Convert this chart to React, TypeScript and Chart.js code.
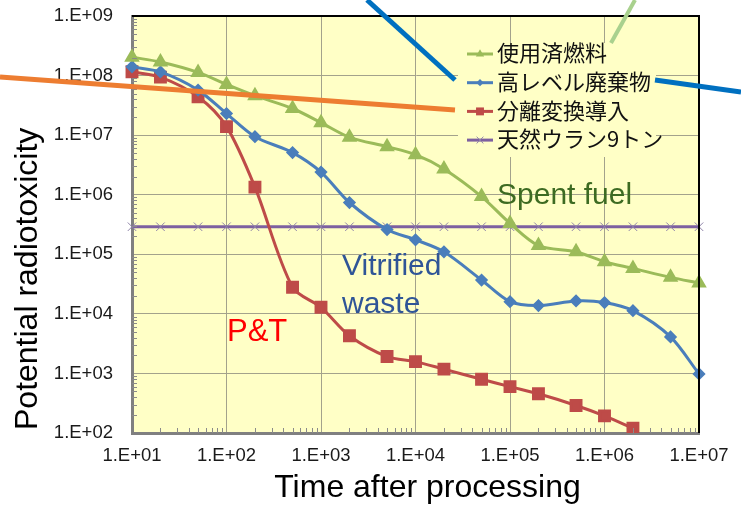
import React, { useEffect, useRef } from "react";
import { Chart, registerables } from "chart.js";

Chart.register(...registerables);

// ---- data ----
const timeValues = [10, 20, 50, 100, 200, 500, 1e3, 2e3, 5e3, 1e4, 2e4, 5e4, 1e5, 2e5, 5e5, 1e6, 2e6, 5e6, 1e7];
const spentFuel = [2.03e8, 1.69e8, 1.13e8, 7.1e7, 4.6e7, 2.8e7, 1.62e7, 9.2e6, 6.4e6, 4.7e6, 2.7e6, 9.3e5, 3.3e5, 1.4e5, 1.1e5, 7.5e4, 5.8e4, 4.1e4, 3.3e4];
const vitrifiedWaste = [1.4e8, 1.15e8, 5.7e7, 2.3e7, 9.4e6, 5.1e6, 2.4e6, 7.4e5, 2.6e5, 1.75e5, 1.1e5, 3.7e4, 1.6e4, 1.38e4, 1.65e4, 1.55e4, 1.13e4, 4.1e3, 9.8e2];
const partitioningTransmutation = [1.16e8, 9.4e7, 4.4e7, 1.39e7, 1.34e6, 2.8e4, 1.29e4, 4.3e3, 1.92e3, 1.58e3, 1.18e3, 8.0e2, 6.0e2, 4.55e2, 2.9e2, 1.94e2, 1.2e2];
const naturalUranium = [2.9e5, 2.9e5, 2.9e5, 2.9e5, 2.9e5, 2.9e5, 2.9e5, 2.9e5, 2.9e5, 2.9e5, 2.9e5, 2.9e5, 2.9e5, 2.9e5, 2.9e5, 2.9e5, 2.9e5, 2.9e5, 2.9e5];

const seriesLabels = ["使用済燃料", "高レベル廃棄物", "分離変換導入", "天然ウラン9トン"];
const xTickValues = [1e1, 1e2, 1e3, 1e4, 1e5, 1e6, 1e7];
const xTickLabels = ["1.E+01", "1.E+02", "1.E+03", "1.E+04", "1.E+05", "1.E+06", "1.E+07"];
const yTickValues = [1e2, 1e3, 1e4, 1e5, 1e6, 1e7, 1e8, 1e9];
const yTickLabels = ["1.E+02", "1.E+03", "1.E+04", "1.E+05", "1.E+06", "1.E+07", "1.E+08", "1.E+09"];
const minorMultipliers = [2, 3, 4, 5, 6, 7, 8, 9];

const xTitle = "Time after processing";
const yTitle = "Potential radiotoxicity";

const toPoints = (ys: number[]) => ys.map((y, i) => ({ x: timeValues[i], y }));

const PLOT_BG = "#ffffc6";
const SANS = "'Liberation Sans', Arial, sans-serif";
const CJK = "'Noto Sans CJK JP', sans-serif";

function drawMarker(ctx: CanvasRenderingContext2D, style: string, x: number, y: number, r: number, fill: string, stroke: string) {
  ctx.save();
  ctx.fillStyle = fill;
  ctx.strokeStyle = stroke;
  ctx.lineWidth = 1;
  ctx.beginPath();
  if (style === "triangle") {
    ctx.moveTo(x, y - r);
    ctx.lineTo(x + r * 0.866, y + r * 0.5);
    ctx.lineTo(x - r * 0.866, y + r * 0.5);
    ctx.closePath();
    ctx.fill();
  } else if (style === "rectRot") {
    ctx.moveTo(x, y - r);
    ctx.lineTo(x + r, y);
    ctx.lineTo(x, y + r);
    ctx.lineTo(x - r, y);
    ctx.closePath();
    ctx.fill();
  } else if (style === "rect") {
    const s = r * 0.707;
    ctx.rect(x - s, y - s, 2 * s, 2 * s);
    ctx.fill();
  } else {
    const s = r * 0.707;
    ctx.moveTo(x - s, y - s);
    ctx.lineTo(x + s, y + s);
    ctx.moveTo(x + s, y - s);
    ctx.lineTo(x - s, y + s);
    ctx.stroke();
  }
  ctx.restore();
}

const decorPlugin = {
  id: "decor",
  beforeDraw(chart: any) {
    const { ctx, chartArea: a } = chart;
    ctx.save();
    ctx.fillStyle = PLOT_BG;
    ctx.fillRect(a.left, a.top, a.right - a.left, a.bottom - a.top);
    ctx.restore();
  },
  afterDraw(chart: any) {
    const { ctx, chartArea: a } = chart;
    const xs = chart.scales.x;
    const ys = chart.scales.y;
    ctx.save();

    // minor ticks (inward)
    ctx.strokeStyle = "#8a8a8a";
    ctx.lineWidth = 1;
    ctx.beginPath();
    for (let d = 0; d < yTickValues.length - 1; d++) {
      for (const m of minorMultipliers) {
        const py = Math.round(ys.getPixelForValue(yTickValues[d] * m)) + 0.5;
        ctx.moveTo(a.left, py);
        ctx.lineTo(a.left + 5, py);
      }
    }
    for (let d = 0; d < xTickValues.length - 1; d++) {
      for (const m of minorMultipliers) {
        const px = Math.round(xs.getPixelForValue(xTickValues[d] * m)) + 0.5;
        ctx.moveTo(px, a.bottom);
        ctx.lineTo(px, a.bottom - 5);
      }
    }
    ctx.stroke();

    // top / right frame
    ctx.strokeStyle = "#000";
    ctx.lineWidth = 2;
    ctx.beginPath();
    ctx.moveTo(a.left, a.top);
    ctx.lineTo(a.right, a.top);
    ctx.lineTo(a.right, a.bottom);
    ctx.stroke();

    // legend
    ctx.fillStyle = PLOT_BG;
    ctx.fillRect(458, 43, 198, 114);
    chart.data.datasets.forEach((ds: any, i: number) => {
      const y = 54 + i * 28.7;
      ctx.strokeStyle = ds.borderColor;
      ctx.lineWidth = 3;
      ctx.beginPath();
      ctx.moveTo(467, y);
      ctx.lineTo(493, y);
      ctx.stroke();
      drawMarker(ctx, ds.pointStyle, 480, y, ds.pointRadius * 0.8, ds.pointBackgroundColor, ds.pointBorderColor);
      ctx.fillStyle = "#111";
      ctx.font = `22px ${CJK}`;
      ctx.textAlign = "left";
      ctx.textBaseline = "middle";
      ctx.fillText(seriesLabels[i], 497, y - 1);
    });

    // annotations
    ctx.textAlign = "left";
    ctx.textBaseline = "alphabetic";
    ctx.font = `30px ${SANS}`;
    ctx.fillStyle = "#3d6b22";
    ctx.fillText("Spent fuel", 497, 204);
    ctx.fillStyle = "#2f5597";
    ctx.fillText("Vitrified", 342, 275);
    ctx.fillText("waste", 342, 313);
    ctx.font = `31px ${SANS}`;
    ctx.fillStyle = "#ff0000";
    ctx.fillText("P&T", 227, 341);

    // axis titles
    ctx.fillStyle = "#000";
    ctx.font = `32px ${SANS}`;
    ctx.textAlign = "center";
    ctx.fillText(xTitle, 427.5, 497);
    ctx.save();
    ctx.translate(37, 430);
    ctx.rotate(-Math.PI / 2);
    ctx.textAlign = "left";
    ctx.fillText(yTitle, 0, 0);
    ctx.restore();

    // pointer lines
    ctx.lineCap = "butt";
    ctx.strokeStyle = "#ed7d31";
    ctx.lineWidth = 5;
    ctx.beginPath();
    ctx.moveTo(0, 77);
    ctx.lineTo(455, 110);
    ctx.stroke();
    ctx.strokeStyle = "#0070c0";
    ctx.beginPath();
    ctx.moveTo(367, 0);
    ctx.lineTo(455, 80);
    ctx.stroke();
    ctx.beginPath();
    ctx.moveTo(655, 80);
    ctx.lineTo(741, 92);
    ctx.stroke();
    ctx.strokeStyle = "#a9d18e";
    ctx.lineWidth = 4;
    ctx.beginPath();
    ctx.moveTo(635, 0);
    ctx.lineTo(611, 43);
    ctx.stroke();

    ctx.restore();
  },
};

export default function App() {
  const ref = useRef<HTMLCanvasElement | null>(null);
  useEffect(() => {
    if (!ref.current) return;
    const clip = { left: false, right: false, top: false, bottom: 0 };
    const common = { borderWidth: 3, tension: 0.3, clip, showLine: true };
    const chart = new Chart(ref.current, {
      type: "scatter",
      data: {
        datasets: [
          { ...common, label: seriesLabels[0], data: toPoints(spentFuel), borderColor: "#9bbb59", pointStyle: "triangle", pointRadius: 6, pointBackgroundColor: "#9bbb59", pointBorderColor: "#9bbb59" },
          { ...common, label: seriesLabels[1], data: toPoints(vitrifiedWaste), borderColor: "#4a7ebb", pointStyle: "rectRot", pointRadius: 4.5, pointBackgroundColor: "#4a7ebb", pointBorderColor: "#4a7ebb" },
          { ...common, label: seriesLabels[2], data: toPoints(partitioningTransmutation), borderColor: "#be4b48", pointStyle: "rect", pointRadius: 7, pointBackgroundColor: "#be4b48", pointBorderColor: "#be4b48" },
          { ...common, label: seriesLabels[3], data: toPoints(naturalUranium), borderColor: "#7d60a0", pointStyle: "crossRot", pointRadius: 6, pointBorderWidth: 1, pointBackgroundColor: "#8f84a8", pointBorderColor: "#8f84a8" },
        ] as any,
      },
      options: {
        animation: false,
        responsive: false,
        layout: { padding: { left: 0, right: 42, top: 16, bottom: 0 } },
        plugins: { legend: { display: false }, tooltip: { enabled: false } },
        scales: {
          x: {
            type: "logarithmic",
            min: 10,
            max: 1e7,
            afterBuildTicks: (s: any) => { s.ticks = xTickValues.map((v) => ({ value: v })); },
            afterFit: (s: any) => { s.height = 77; s.paddingLeft = 0; s.paddingRight = 0; },
            ticks: {
              autoSkip: false,
              maxRotation: 0,
              padding: 12,
              color: "#1a1a1a",
              font: { family: SANS, size: 18.5 },
              callback: (_v: any, i: number) => xTickLabels[i],
            },
            grid: { color: "#a3a28c", lineWidth: 1, drawTicks: false },
            border: { color: "#808080", width: 3 },
          },
          y: {
            type: "logarithmic",
            min: 100,
            max: 1e9,
            afterBuildTicks: (s: any) => { s.ticks = yTickValues.map((v) => ({ value: v })); },
            afterFit: (s: any) => { s.width = 132; s.paddingTop = 0; s.paddingBottom = 0; },
            ticks: {
              autoSkip: false,
              padding: 19,
              color: "#1a1a1a",
              font: { family: SANS, size: 18.5 },
              callback: (_v: any, i: number) => yTickLabels[i],
            },
            grid: { color: "#a3a28c", lineWidth: 1, drawTicks: false },
            border: { color: "#808080", width: 3 },
          },
        },
      } as any,
      plugins: [decorPlugin],
    });
    return () => chart.destroy();
  }, []);
  return (
    <div style={{ position: "absolute", left: 0, top: 0, width: 741, height: 510, background: "#fff" }}>
      <canvas ref={ref} width={741} height={510} style={{ display: "block" }} />
    </div>
  );
}
